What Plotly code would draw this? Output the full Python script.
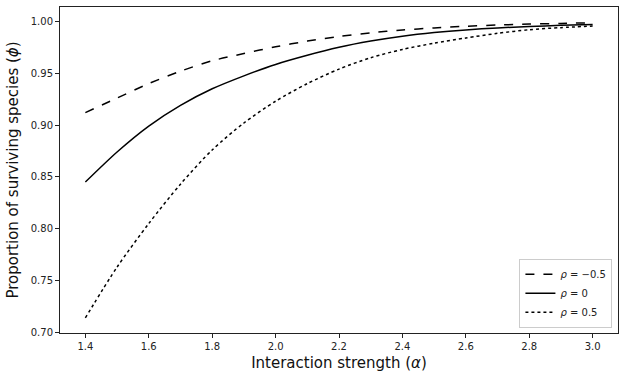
import plotly.graph_objects as go

# interaction strength values (x axis)
alpha = [1.4, 1.5, 1.6, 1.7, 1.8, 1.9, 2.0, 2.1, 2.2, 2.3, 2.4, 2.5, 2.6, 2.7, 2.8, 2.9, 3.0]

# proportion of surviving species
phi_rho_neg = [0.912, 0.926, 0.940, 0.952, 0.962, 0.969, 0.9755, 0.981, 0.9855, 0.989, 0.9917,
               0.9937, 0.9953, 0.9965, 0.9974, 0.9981, 0.9986]
phi_rho_zero = [0.845, 0.874, 0.899, 0.919, 0.935, 0.9475, 0.9585, 0.9673, 0.975, 0.981, 0.9857,
                0.9892, 0.9918, 0.9937, 0.9951, 0.9962, 0.997]
phi_rho_pos = [0.714, 0.763, 0.805, 0.843, 0.876, 0.902, 0.923, 0.940, 0.954, 0.965, 0.973,
               0.979, 0.984, 0.9885, 0.992, 0.994, 0.9955]

names = ["<i>ρ</i> = −0.5", "<i>ρ</i> = 0", "<i>ρ</i> = 0.5"]
dashes = ["dash", "solid", "dot"]

fig = go.Figure()
for ys, name, dash in zip([phi_rho_neg, phi_rho_zero, phi_rho_pos], names, dashes):
    fig.add_trace(go.Scatter(x=alpha, y=ys, mode="lines", name=name,
                             line=dict(color="black", width=1.5, dash=dash, shape="spline",
                                       smoothing=0.8)))

axis_style = dict(showline=True, linecolor="#222", linewidth=1, mirror=True,
                  ticks="outside", ticklen=4, tickcolor="#222", showgrid=False, zeroline=False,
                  tickfont=dict(size=10, color="#222"), automargin=False)

fig.update_xaxes(range=[1.32, 3.08], tickvals=[1.4, 1.6, 1.8, 2.0, 2.2, 2.4, 2.6, 2.8, 3.0],
                 tickformat=".1f", title=dict(text="Interaction strength (<i>α</i>)",
                                              font=dict(size=15, color="#111"), standoff=6),
                 **axis_style)
fig.update_yaxes(range=[0.6994, 1.0139], tickvals=[0.70, 0.75, 0.80, 0.85, 0.90, 0.95, 1.00],
                 tickformat=".2f", title=dict(text="Proportion of surviving species (<i>ϕ</i>)",
                                              font=dict(size=15, color="#111"), standoff=8),
                 **axis_style)

fig.update_layout(
    width=624, height=380,
    margin=dict(l=60, r=6, t=7, b=47),
    paper_bgcolor="white", plot_bgcolor="white",
    font=dict(family="DejaVu Sans", color="#222"),
    legend=dict(x=0.99, y=0.016, xanchor="right", yanchor="bottom",
                bordercolor="#ccc", borderwidth=1, bgcolor="white",
                font=dict(size=10), itemwidth=30, tracegroupgap=2),
    showlegend=True,
)

# the page body has a default 8px margin, drop it so the figure sits at 0,0
fig.write_html("out.html", config={"displayModeBar": False},
               post_script="document.body.style.margin='0';")
